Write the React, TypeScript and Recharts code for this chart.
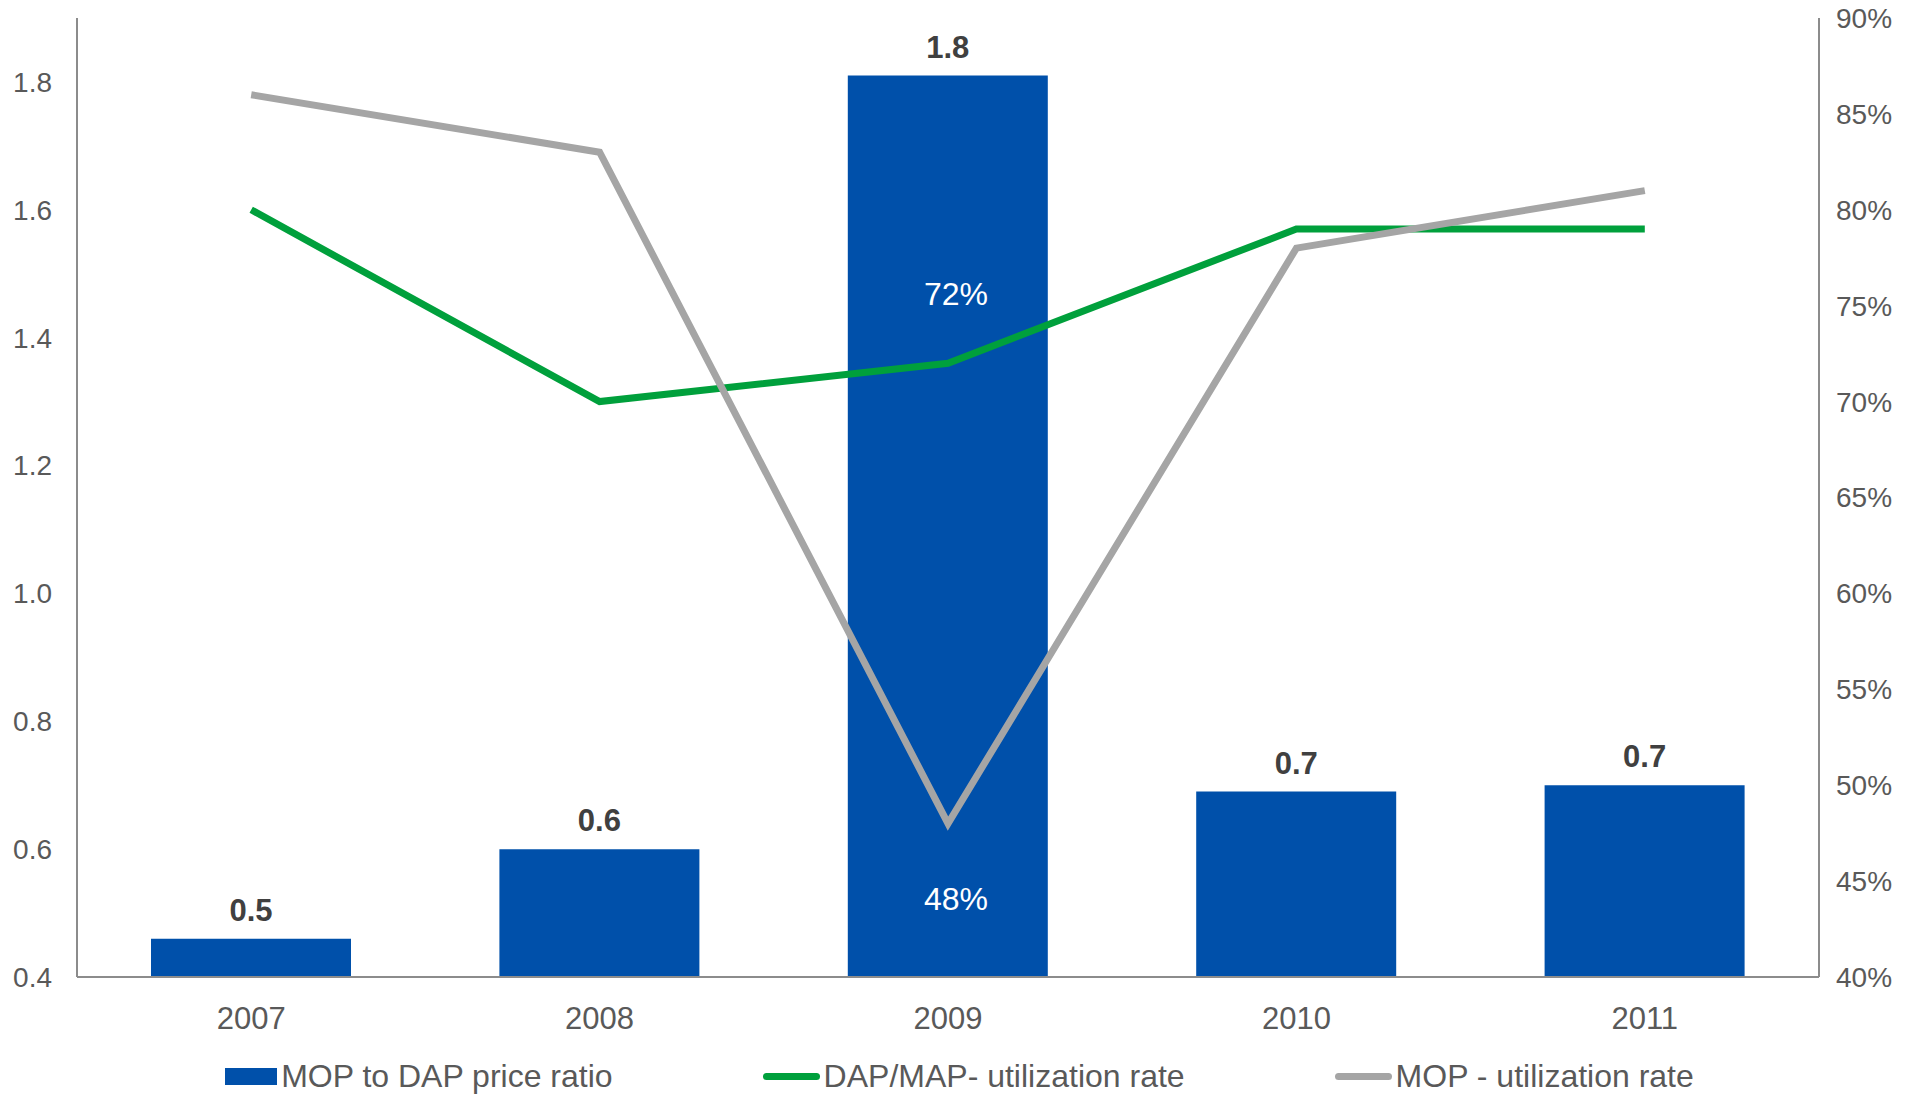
import {
  ComposedChart,
  Bar,
  Line,
  XAxis,
  YAxis,
  LabelList,
  Legend,
} from "recharts";

// categorias e séries
const years = ["2007", "2008", "2009", "2010", "2011"];
const priceRatio = [0.46, 0.6, 1.81, 0.69, 0.7];
const dapMapRate = [80, 70, 72, 79, 79];
const mopRate = [86, 83, 48, 78, 81];

const leftTicks = [0.4, 0.6, 0.8, 1.0, 1.2, 1.4, 1.6, 1.8];
const rightTicks = [40, 45, 50, 55, 60, 65, 70, 75, 80, 85, 90];

const BLUE = "#0050AA";
const GREEN = "#00A03C";
const GRAY = "#A5A5A5";
const AXIS = "#8C8C8C";
const TICK = "#595959";

const data = years.map((year, i) => ({
  year,
  ratio: priceRatio[i],
  dap: dapMapRate[i],
  mop: mopRate[i],
}));

// só o ano de 2009 mostra o rótulo das linhas (texto branco dentro da barra)
function lineLabel(dy: number) {
  return (props: any) => {
    const { x, y, value, index } = props;
    if (index !== 2) return null;
    return (
      <text
        x={x + 8}
        y={y + dy}
        textAnchor="middle"
        fill="#FFFFFF"
        fontSize={32}
      >
        {`${value}%`}
      </text>
    );
  };
}

function LegendContent() {
  const item = (marker: JSX.Element, label: string, ml: number) => (
    <div style={{ display: "flex", alignItems: "center", marginLeft: ml }}>
      {marker}
      <span style={{ marginLeft: 4 }}>{label}</span>
    </div>
  );
  const lineMarker = (color: string) => (
    <div
      style={{
        width: 57,
        height: 7,
        borderRadius: 4,
        background: color,
      }}
    />
  );
  return (
    <div
      style={{
        height: 52,
        boxSizing: "border-box",
        paddingTop: 17,
        display: "flex",
        justifyContent: "center",
        fontSize: 32,
        lineHeight: "31px",
        color: TICK,
      }}
    >
      {item(
        <div style={{ width: 52, height: 17, background: BLUE }} />,
        "MOP to DAP price ratio",
        0
      )}
      {item(lineMarker(GREEN), "DAP/MAP- utilization rate", 150)}
      {item(lineMarker(GRAY), "MOP - utilization rate", 150)}
    </div>
  );
}

export default function App() {
  return (
    <div
      style={{
        position: "absolute",
        left: 0,
        top: 0,
        width: 1919,
        height: 1094,
        background: "#FFFFFF",
        fontFamily: "'Liberation Sans', Arial, sans-serif",
      }}
    >
      <ComposedChart
        width={1919}
        height={1094}
        data={data}
        margin={{ top: 18, right: 0, left: 0, bottom: 0 }}
      >
        <XAxis
          dataKey="year"
          height={65}
          axisLine={{ stroke: AXIS, strokeWidth: 2 }}
          tickLine={false}
          tickMargin={24}
          tick={{ fill: TICK, fontSize: 31 }}
        />
        <YAxis
          yAxisId="left"
          width={77}
          domain={[0.4, 1.9]}
          ticks={leftTicks}
          allowDataOverflow
          axisLine={{ stroke: AXIS, strokeWidth: 2 }}
          tickLine={false}
          tickMargin={19}
          tick={{ fill: TICK, fontSize: 28 }}
          tickFormatter={(v: number) => v.toFixed(1)}
        />
        <YAxis
          yAxisId="right"
          orientation="right"
          width={100}
          domain={[40, 90]}
          ticks={rightTicks}
          axisLine={{ stroke: AXIS, strokeWidth: 2 }}
          tickLine={false}
          tickMargin={11}
          tick={{ fill: TICK, fontSize: 28, textAnchor: "start" }}
          tickFormatter={(v: number) => `${v}%`}
        />
        <Legend verticalAlign="bottom" content={<LegendContent />} />
        <Bar
          yAxisId="left"
          dataKey="ratio"
          fill={BLUE}
          barSize={200}
          isAnimationActive={false}
        >
          <LabelList
            dataKey="ratio"
            position="top"
            offset={18}
            fill="#404040"
            fontSize={31}
            fontWeight="bold"
            formatter={(v: number) => v.toFixed(1)}
          />
        </Bar>
        <Line
          yAxisId="right"
          dataKey="dap"
          stroke={GREEN}
          strokeWidth={7}
          dot={false}
          activeDot={false}
          isAnimationActive={false}
        >
          <LabelList dataKey="dap" content={lineLabel(-58)} />
        </Line>
        <Line
          yAxisId="right"
          dataKey="mop"
          stroke={GRAY}
          strokeWidth={7}
          dot={false}
          activeDot={false}
          isAnimationActive={false}
        >
          <LabelList dataKey="mop" content={lineLabel(86)} />
        </Line>
      </ComposedChart>
    </div>
  );
}
